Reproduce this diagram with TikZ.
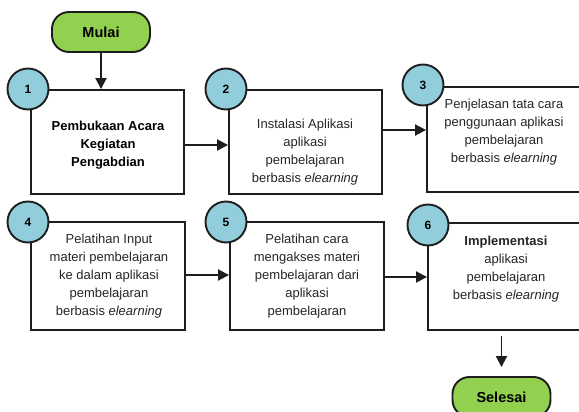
\documentclass[tikz,border=0pt]{standalone}
\usepackage{fontspec}
\setmainfont{Liberation Sans}
\usetikzlibrary{arrows.meta,calc}
\definecolor{startgreen}{HTML}{92D050}
\definecolor{numblue}{HTML}{92CDDC}
\definecolor{lineclr}{HTML}{1E1E1E}
\begin{document}
\begin{tikzpicture}[x=1pt,y=-1pt,
 box/.style={draw=lineclr, line width=1.9pt, fill=white, inner sep=0pt},
 num/.style={circle, draw=lineclr, line width=1.9pt, fill=numblue, minimum size=41pt, inner sep=0pt, font=\bfseries\fontsize{12}{14}\selectfont},
 term/.style={draw=lineclr, line width=1.9pt, fill=startgreen, rounded corners=17pt, minimum width=98pt, minimum height=40pt, inner sep=0pt, font=\bfseries\fontsize{14.5}{16}\selectfont},
 txt/.style={align=center, font=\fontsize{13}{18}\selectfont, inner sep=0pt, text=black!85},
 arr/.style={draw=lineclr, line width=1.9pt, -{Triangle[length=11pt,width=11pt]}}]
\useasboundingbox (0,0) rectangle (579,412);
\clip (0,0) rectangle (579,412);
% terminals
\node[term] (mulai) at (101,32) {Mulai};
\node[term] (selesai) at (501.5,397) {Selesai};
% boxes
\node[box, minimum width=153pt, minimum height=104pt] (b1) at (107.5,142) {};
\node[box, minimum width=153pt, minimum height=104pt] (b2) at (305.5,142) {};
\node[box, minimum width=213pt, minimum height=105pt] (b3) at (533.5,139.5) {};
\node[box, minimum width=154pt, minimum height=108pt] (b4) at (108,276) {};
\node[box, minimum width=154pt, minimum height=108pt] (b5) at (307,276) {};
\node[box, minimum width=212pt, minimum height=107pt] (b6) at (534,276.5) {};
% texts
\node[txt, font=\bfseries\fontsize{13}{18}\selectfont, text=black] (t1) at (108,145) {Pembukaan Acara\\Kegiatan\\Pengabdian};
\node[txt] (t2) at (305,152) {Instalasi Aplikasi\\aplikasi\\pembelajaran\\berbasis \textit{elearning}};
\node[txt] (t3) at (504,132) {Penjelasan tata cara\\penggunaan aplikasi\\pembelajaran\\berbasis \textit{elearning}};
\node[txt] (t4) at (109,276) {Pelatihan Input\\materi pembelajaran\\ke dalam aplikasi\\pembelajaran\\berbasis \textit{elearning}};
\node[txt] (t5) at (307,276) {Pelatihan cara\\mengakses materi\\pembelajaran dari\\aplikasi\\pembelajaran};
\node[txt] (t6) at (506,269) {\textbf{Implementasi}\\aplikasi\\pembelajaran\\berbasis \textit{elearning}};
% number circles
\node[num] (c1) at (28,89) {1};
\node[num] (c2) at (226,89) {2};
\node[num] (c3) at (423,85) {3};
\node[num] (c4) at (28,222) {4};
\node[num] (c5) at (226,222) {5};
\node[num] (c6) at (428,225) {6};
% connectors
\draw[arr] (mulai.south) -- (mulai.south |- b1.north);
\draw[arr] ([yshift=-3pt]b1.east) -- ([yshift=-3pt]b1.east -| b2.west);
\draw[arr] ([yshift=12pt]b2.east) -- ([yshift=12pt]b2.east -| b3.west);
\draw[arr] ([yshift=1pt]b4.east) -- ([yshift=1pt]b4.east -| b5.west);
\draw[arr] ([yshift=-1pt]b5.east) -- ([yshift=-1pt]b5.east -| b6.west);
\draw[arr, shorten <=5pt, shorten >=9pt] (selesai.north |- b6.south) -- (selesai.north);
\end{tikzpicture}
\end{document}
